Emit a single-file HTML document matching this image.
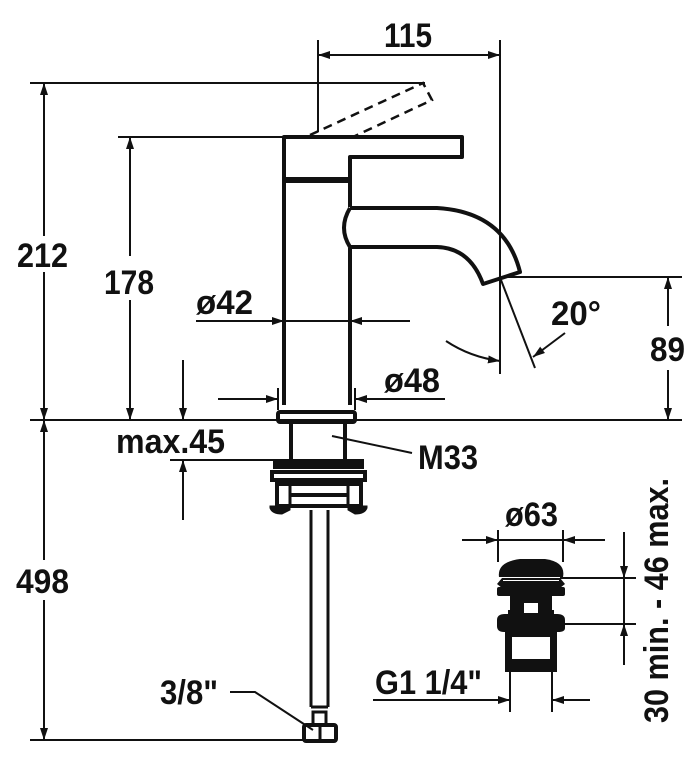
<!DOCTYPE html>
<html><head><style>
html,body{margin:0;padding:0;background:#fff;}
svg{display:block;}
text{font-family:"Liberation Sans",sans-serif;font-weight:bold;fill:#111;}
</style></head><body>
<svg width="700" height="763" viewBox="0 0 700 763" xmlns="http://www.w3.org/2000/svg">
<defs>
<marker id="a" viewBox="0 0 12 8" refX="12" refY="4" markerWidth="12" markerHeight="8" markerUnits="userSpaceOnUse" orient="auto-start-reverse">
<path d="M0,0 L12,4 L0,8 Z" fill="#111"/></marker>
</defs>
<g stroke="#111" stroke-width="2" fill="none">
<line x1="30" y1="420" x2="682" y2="420"/>
<line x1="318" y1="40" x2="318" y2="132"/>
<line x1="500" y1="40" x2="500" y2="374"/>
<line x1="318" y1="55" x2="500" y2="55" marker-start="url(#a)" marker-end="url(#a)"/>
<line x1="30" y1="83" x2="425" y2="83"/>
<line x1="44" y1="83" x2="44" y2="236" marker-start="url(#a)"/>
<line x1="44" y1="272" x2="44" y2="420" marker-end="url(#a)"/>
<line x1="118" y1="137" x2="284" y2="137"/>
<line x1="130" y1="137" x2="130" y2="256" marker-start="url(#a)"/>
<line x1="130" y1="300" x2="130" y2="420" marker-end="url(#a)"/>
<line x1="183" y1="360" x2="183" y2="420" marker-end="url(#a)"/>
<line x1="183" y1="520" x2="183" y2="460" marker-end="url(#a)"/>
<line x1="170" y1="460" x2="275" y2="460"/>
<line x1="44" y1="420" x2="44" y2="560" marker-start="url(#a)"/>
<line x1="44" y1="600" x2="44" y2="740" marker-end="url(#a)"/>
<line x1="30" y1="740" x2="303" y2="740"/>
<line x1="196" y1="321" x2="284" y2="321" marker-end="url(#a)"/>
<line x1="410" y1="321" x2="350" y2="321" marker-end="url(#a)"/>
<line x1="196" y1="321" x2="410" y2="321"/>
<line x1="218" y1="399" x2="278" y2="399" marker-end="url(#a)"/>
<line x1="445" y1="399" x2="355" y2="399" marker-end="url(#a)"/>
<line x1="278" y1="388" x2="278" y2="410"/>
<line x1="355" y1="388" x2="355" y2="410"/>
<line x1="332" y1="436" x2="412" y2="453"/>
<line x1="500" y1="277" x2="682" y2="277"/>
<line x1="668" y1="277" x2="668" y2="326" marker-start="url(#a)"/>
<line x1="668" y1="370" x2="668" y2="420" marker-end="url(#a)"/>
<line x1="501" y1="280" x2="535" y2="368"/>
<path d="M446,341 Q470,357 500,361" marker-end="url(#a)"/>
<line x1="565" y1="333" x2="533" y2="357" marker-end="url(#a)"/>
<polyline points="230,692 255,692 313,730"/>
<line x1="373" y1="700" x2="510" y2="700" marker-end="url(#a)"/>
<line x1="590" y1="700" x2="552" y2="700" marker-end="url(#a)"/>
<line x1="510" y1="670" x2="510" y2="712"/>
<line x1="552" y1="670" x2="552" y2="712"/>
<line x1="462" y1="540" x2="498" y2="540" marker-end="url(#a)"/>
<line x1="605" y1="540" x2="563" y2="540" marker-end="url(#a)"/>
<line x1="498" y1="540" x2="563" y2="540"/>
<line x1="498" y1="530" x2="498" y2="562"/>
<line x1="563" y1="530" x2="563" y2="562"/>
<line x1="560" y1="578" x2="636" y2="578"/>
<line x1="560" y1="624" x2="636" y2="624"/>
<line x1="624" y1="532" x2="624" y2="578" marker-end="url(#a)"/>
<line x1="624" y1="665" x2="624" y2="624" marker-end="url(#a)"/>
<line x1="624" y1="578" x2="624" y2="624"/>
</g>
<g stroke="#111" stroke-width="4" fill="none" stroke-linejoin="round">
<path d="M284,405 L284,137 L462,137 L462,157 L350,157 L350,207"/>
<line x1="350" y1="248" x2="350" y2="405"/>
<path d="M350,208 L437,208 Q505,212 520,272 L483,284 Q470,248 437,247 L350,247 Q338,228 350,208"/>
<line x1="284" y1="180" x2="350" y2="180" stroke-width="6"/>
</g>
<g stroke="#111" stroke-width="2.5" fill="none" stroke-dasharray="9,6">
<path d="M310,135 L423,83 L432,100 L355,136"/>
</g>
<g stroke="#111" fill="none">
<rect x="278" y="412" width="77" height="10" rx="2" stroke-width="4"/>
<line x1="291" y1="422" x2="291" y2="460" stroke-width="4"/>
<line x1="345" y1="422" x2="345" y2="460" stroke-width="4"/>
<rect x="274" y="460" width="89" height="8" fill="#111" stroke-width="2"/>
<rect x="272" y="472" width="93" height="8" stroke-width="4"/>
<rect x="277" y="484" width="84" height="22" stroke-width="4"/>
<line x1="290" y1="484" x2="290" y2="506" stroke-width="3"/>
<line x1="348" y1="484" x2="348" y2="506" stroke-width="3"/>
<line x1="290" y1="495" x2="348" y2="495" stroke-width="4"/>
<path d="M270,508 Q272,514 282,514 L290,510 L290,506 L270,506 Z" fill="#111"/>
<path d="M367,508 Q365,514 355,514 L348,510 L348,506 L367,506 Z" fill="#111"/>
<line x1="311" y1="510" x2="311" y2="707" stroke-width="3"/>
<line x1="328" y1="510" x2="328" y2="707" stroke-width="3"/>
<line x1="311" y1="707" x2="328" y2="707" stroke-width="3"/>
<path d="M313,725 L313,712 L326,712 L326,725" stroke-width="3"/>
<rect x="304" y="725" width="32" height="16" rx="2" stroke-width="4"/>
<line x1="320" y1="725" x2="320" y2="741" stroke-width="3"/>
</g>
<g fill="#111" stroke="none">
<path d="M499,577 Q497,562 520,559 L545,559 Q566,562 563,577 Z"/>
<path d="M502,578 L560,578 L565,584 L560,588 L502,588 L497,584 Z"/>
<rect x="497" y="587" width="68" height="9" rx="2"/>
<path d="M508,596 L554,596 L554,616 L508,616 Z"/>
<path d="M497,620 Q497,614 505,614 L557,614 Q565,614 565,620 L565,628 Q565,632 558,632 L504,632 Q497,632 497,626 Z"/>
<rect x="505" y="632" width="52" height="40"/>
<rect x="508" y="660" width="46" height="12"/>
</g>
<g fill="#fff">
<rect x="505" y="596" width="5" height="14"/>
<rect x="552" y="596" width="5" height="14"/>
<rect x="524" y="603" width="14" height="10"/>
<rect x="512" y="637" width="38" height="22"/>
<rect x="503" y="580" width="56" height="1"/>
</g>
<g font-size="34">
<rect x="14" y="236" width="60" height="36" fill="#fff"/>
<text x="17" y="267" textLength="51" lengthAdjust="spacingAndGlyphs">212</text>
<rect x="100" y="256" width="60" height="44" fill="#fff"/>
<text x="104" y="294" textLength="50" lengthAdjust="spacingAndGlyphs">178</text>
<text x="16" y="593" textLength="53" lengthAdjust="spacingAndGlyphs">498</text>
<text x="116" y="453" textLength="109" lengthAdjust="spacingAndGlyphs">max.45</text>
<text x="196" y="314" textLength="57" lengthAdjust="spacingAndGlyphs">ø42</text>
<text x="384" y="392" textLength="56" lengthAdjust="spacingAndGlyphs">ø48</text>
<text x="418" y="469" textLength="60" lengthAdjust="spacingAndGlyphs">M33</text>
<text x="384" y="47" textLength="48" lengthAdjust="spacingAndGlyphs">115</text>
<text x="551" y="325" textLength="50" lengthAdjust="spacingAndGlyphs">20°</text>
<rect x="648" y="326" width="40" height="44" fill="#fff"/>
<text x="650" y="361" textLength="35" lengthAdjust="spacingAndGlyphs">89</text>
<text x="160" y="704" textLength="58" lengthAdjust="spacingAndGlyphs">3/8"</text>
<text x="375" y="694" textLength="107" lengthAdjust="spacingAndGlyphs">G1 1/4"</text>
<text x="505" y="526" textLength="53" lengthAdjust="spacingAndGlyphs">ø63</text>
<text transform="translate(668,723) rotate(-90)" textLength="245" lengthAdjust="spacingAndGlyphs">30 min. - 46 max.</text>
</g>
</svg>
</body></html>
